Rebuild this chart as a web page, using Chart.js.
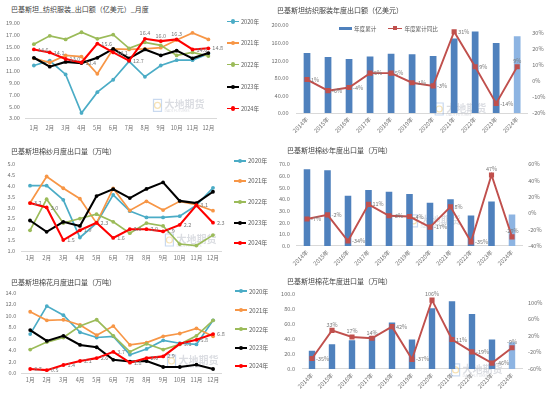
<!DOCTYPE html>
<html><head><meta charset="utf-8">
<script src="https://cdn.jsdelivr.net/npm/chart.js@4.4.0/dist/chart.umd.min.js"></script>
<style>
body{margin:0;width:550px;height:393px;background:#fff;position:relative;overflow:hidden;font-family:"Noto Sans CJK SC","Noto Sans",sans-serif;}
canvas{position:absolute;}
.t{position:absolute;font-size:7px;color:#404040;white-space:nowrap;line-height:8px;z-index:2;}
.lg{position:absolute;color:#595959;white-space:nowrap;line-height:7px;z-index:2;}
.sw{display:inline-block;width:12px;height:1.8px;vertical-align:middle;position:relative;margin-right:2px;margin-top:-1px;}
.sw i{position:absolute;left:4px;top:-1.2px;width:4.2px;height:4.2px;border-radius:50%;}
.sw b{position:absolute;left:4px;top:-1.2px;width:4px;height:4px;}
</style></head><body>
<div class="t" style="left:11px;top:5px">巴基斯坦_纺织服装_出口额（亿美元）_月度</div>
<div class="t" style="left:277px;top:6px">巴基斯坦纺织服装年度出口额（亿美元）</div>
<div class="t" style="left:11px;top:147px">巴基斯坦棉纱月度出口量（万吨）</div>
<div class="t" style="left:287px;top:146px">巴基斯坦棉纱年度出口量（万吨）</div>
<div class="t" style="left:11px;top:278px">巴基斯坦棉花月度进口量（万吨）</div>
<div class="t" style="left:287px;top:277px">巴基斯坦棉花年度进口量（万吨）</div>
<canvas id="c1" width="262" height="126" style="left:0;top:14px"></canvas>
<canvas id="c2" width="295" height="126" style="left:255px;top:14px"></canvas>
<canvas id="c3" width="262" height="116" style="left:0;top:154px"></canvas>
<canvas id="c4" width="295" height="116" style="left:255px;top:154px"></canvas>
<canvas id="c5" width="262" height="109" style="left:0;top:284px"></canvas>
<canvas id="c6" width="295" height="109" style="left:255px;top:284px"></canvas>
<script>
// ---------- data ----------
const months = ['1月','2月','3月','4月','5月','6月','7月','8月','9月','10月','11月','12月'];
const years = ['2014年','2015年','2016年','2017年','2018年','2019年','2020年','2021年','2022年','2023年','2024年'];
const seriesNames = ['2020年','2021年','2022年','2023年','2024年'];

// 纺织服装月度出口额（亿美元）
const textile2020 = [11.9,12.7,10.4,3.9,7.4,9.5,12.6,10.0,11.9,12.8,12.8,13.9];
const textile2021 = [13.1,12.4,13.6,13.4,10.5,14.7,14.6,14.7,14.9,16.2,17.4,16.3];
const textile2022 = [15.5,16.9,16.3,17.5,16.4,17.1,14.8,15.8,15.3,13.6,14.1,13.5];
const textile2023 = [13.2,11.7,12.5,12.3,13.2,14.7,13.1,14.6,13.6,14.4,13.1,14.0];
const textile2024 = [14.6,14.1,13.0,12.4,15.6,14.1,12.7,16.4,16.0,16.3,14.6,14.8];

// 纺织服装年度出口额（亿美元）及同比（%）
const textileAnnual = [137,128,123,129,135,134,130,170,186,160,175];
const textileYoY = [1,-6,-4,5,5,-1,-3,31,9,-14,9];

// 棉纱月度出口量（万吨）
const yarn2020 = [4.0,4.0,3.35,1.62,2.28,3.58,2.83,2.54,2.54,2.6,3.1,3.9];
const yarn2021 = [3.2,4.42,3.88,3.4,2.28,3.87,2.86,3.28,2.88,3.28,3.13,2.85];
const yarn2022 = [1.95,3.38,2.28,2.49,2.69,2.34,1.82,2.28,2.15,1.32,1.25,1.73];
const yarn2023 = [2.4,1.88,2.34,2.15,3.52,3.84,3.43,3.85,4.15,3.3,3.2,3.72];
const yarn2024 = [3.2,3.0,1.5,1.95,2.3,1.6,2.0,2.0,1.9,2.2,3.1,2.3];

// 棉纱年度出口量（万吨）及同比（%）
const yarnAnnual = [65.9,65,43,48,46.5,44.6,37,40,26,38.2,27];
const yarnYoY = [-7,-2,-34,11,-3,-4,-17,8,-35,47,-29];

// 棉花月度进口量（万吨）
const cotton2020 = [6.8,11.7,10.1,7.1,6.2,6.4,3.2,4.2,5.7,5.2,5.0,9.2];
const cotton2021 = [10.7,9.2,9.3,8.4,6.6,8.2,4.9,5.3,6.4,6.9,7.8,6.4];
const cotton2022 = [4.1,5.4,6.2,8.2,9.3,6.5,3.7,5.1,4.1,5.0,6.5,9.2];
const cotton2023 = [7.5,5.6,6.5,4.9,4.5,2.3,2.0,2.1,1.05,1.05,1.45,0.7];
const cotton2024 = [0.7,0.5,1.4,2.1,2.6,3.7,1.8,2.6,2.9,5.1,5.8,6.8];

// 棉花年度进口量（万吨）及同比（%）
const cottonAnnual = [24.2,32.9,38.5,44.2,62.3,39.4,81.4,90.9,73.6,39.4,35.8];
const cottonYoY = [-35,33,17,14,42,-37,106,11,-19,-46,-9];

// ---------- styles ----------
const lineColors = ['#4bacc6','#f79646','#9bbb59','#000000','#ff0000'];
const barBlue = '#4f81bd', barLight = '#8db4e2', yoyRed = '#c0504d';
const tickColor = '#6f6f6f';
const FONT = '"Noto Sans CJK SC","Noto Sans",sans-serif';
Chart.defaults.font.family = FONT;
Chart.defaults.color = tickColor;

const labelPlugin = {
  id:'ptLabels',
  afterDatasetsDraw(chart, args, o){
    if(!o || o.dataset === undefined || o.dataset === null) return;
    const meta = chart.getDatasetMeta(o.dataset);
    const data = chart.data.datasets[o.dataset].data;
    const ctx = chart.ctx;
    ctx.save();
    ctx.font = '5.5px ' + FONT;
    ctx.fillStyle = '#7a7a7a';
    meta.data.forEach((el,i)=>{
      const v = data[i];
      const txt = o.fmt === 'pct' ? (v + '%') : v.toFixed(1);
      const p = (o.pos && o.pos[i]) || 'r';
      let x = el.x, y = el.y;
      if(p === 't'){ ctx.textAlign='center'; ctx.textBaseline='bottom'; y -= 3; }
      else if(p === 'b'){ ctx.textAlign='center'; ctx.textBaseline='top'; y += 3; }
      else { ctx.textAlign='left'; ctx.textBaseline='middle'; x += 4; }
      ctx.fillText(txt, x, y);
    });
    ctx.restore();
  }
};
const wmPlugin = {
  id:'wm',
  beforeDatasetsDraw(chart, args, o){
    if(!o || o.fx === undefined) return;
    const a = chart.chartArea;
    const x = a.left + o.fx*(a.right-a.left), y = a.bottom + o.dy;
    const c = chart.ctx;
    c.save();
    c.strokeStyle = 'rgba(120,160,215,0.4)';
    c.lineWidth = 1.2;
    c.beginPath();
    c.rect(x, y-7, 8, 12);
    c.stroke();
    c.strokeStyle = 'rgba(235,190,90,0.45)';
    c.beginPath();
    c.arc(x+4, y-1, 3, 0, Math.PI*2);
    c.stroke();
    c.fillStyle = 'rgba(175,180,190,0.45)';
    c.font = 'bold 10px ' + FONT;
    c.textBaseline = 'middle';
    c.textAlign = 'left';
    c.fillText('大地期货', x+11, y-2);
    c.font = '3.6px "Noto Sans",sans-serif';
    c.fillText('DADI FUTURES', x+11, y+5);
    c.restore();
  }
};
Chart.register(labelPlugin, wmPlugin);

function xScale(pad, rot, fs){
  return {type:'category', offset:true,
    grid:{display:false, drawTicks:false},
    border:{display:true, color:'#d9d9d9', width:1},
    ticks:{font:{size:fs}, color:tickColor, padding:pad, autoSkip:false, maxRotation:rot, minRotation:rot}};
}
function yScale(min, max, step, dec, pad, pos, pct){
  return {type:'linear', position:pos, min:min, max:max,
    grid:{display:false, drawTicks:false}, border:{display:false},
    ticks:{stepSize:step, font:{size:5.6}, color:tickColor, padding:pad,
      callback:(v)=> pct ? (Math.round(v) + '%') : v.toFixed(dec)}};
}

function lineCfg(sets, min, max, step, dec, ypad, xpad, pos, wm){
  return {type:'line',
    data:{labels:months, datasets:sets.map((d,i)=>({label:seriesNames[i], data:d,
      borderColor:lineColors[i], backgroundColor:lineColors[i], borderWidth: i>=3 ? 2.1 : 1.7,
      pointRadius:1.9, pointHoverRadius:1.9, pointBorderWidth:0, tension:0, order:5-i}))},
    options:{responsive:false, animation:false, events:[],
      layout:{padding:{left:0,right:0,top:0,bottom:0}},
      plugins:{legend:{display:false}, tooltip:{enabled:false}, title:{display:false},
        ptLabels:{dataset:4, fmt:'f1', pos:pos}, wm:wm},
      scales:{x:xScale(xpad,0,5.6), y:yScale(min,max,step,dec,ypad,'left',false)}}};
}
function barCfg(vals, yoy, lmin, lmax, lstep, ldec, rmin, rmax, rstep, lpad, rpad, pos, wm){
  const cols = vals.map((v,i)=> i === vals.length-1 ? barLight : barBlue);
  return {type:'bar',
    data:{labels:years, datasets:[
      {type:'line', label:'年度累计同比', data:yoy, yAxisID:'y1', borderColor:yoyRed, backgroundColor:yoyRed,
        borderWidth:1.9, pointStyle:'rect', pointRadius:2.3, pointHoverRadius:2.3, tension:0, order:0},
      {type:'bar', label:'年度累计', data:vals, yAxisID:'y', backgroundColor:cols,
        barPercentage:0.32, categoryPercentage:1, order:1}]},
    options:{responsive:false, animation:false, events:[],
      layout:{padding:{left:0,right:0,top:0,bottom:0}},
      plugins:{legend:{display:false}, tooltip:{enabled:false}, title:{display:false},
        ptLabels:{dataset:0, fmt:'pct', pos:pos}, wm:wm},
      scales:{x:xScale(3,45,5.8), y:yScale(lmin,lmax,lstep,ldec,lpad,'left',false),
        y1:yScale(rmin,rmax,rstep,0,rpad,'right',true)}}};
}

function place(id, cfg, want){
  const cv = document.getElementById(id);
  const ox = parseFloat(cv.style.left) || 0, oy = parseFloat(cv.style.top) || 0;
  const w = {l:want[0]-ox, t:want[1]-oy, r:want[2]-ox, b:want[3]-oy};
  const ch = new Chart(cv, cfg);
  const p = ch.config.options.layout.padding;
  for(let k=0;k<5;k++){
    const a = ch.chartArea;
    p.left = Math.max(0, p.left + w.l - a.left);
    p.top = Math.max(0, p.top + w.t - a.top);
    p.right = Math.max(0, p.right + a.right - w.r);
    p.bottom = Math.max(0, p.bottom + a.bottom - w.b);
    ch.update('none');
  }
  return ch;
}

place('c1', lineCfg([textile2020,textile2021,textile2022,textile2023,textile2024], 3, 19, 2, 2, 6, 6,
  ['r','r','r','r','r','r','r','t','t','t','r','r'], {fx:0.67, dy:-12}), [24.3,23.3,216.3,118.3]);
place('c2', barCfg(textileAnnual, textileYoY, 0, 200, 20, 2, -20, 35, 5, 8, 4.5,
  ['r','r','r','r','r','r','r','r','r','r','t'], {fx:0.6, dy:-3}), [296.5,24,528.5,113]);
place('c3', lineCfg([yarn2020,yarn2021,yarn2022,yarn2023,yarn2024], 1, 5, 0.5, 1, 6.5, 3.5,
  ['r','r','r','r','r','r','r','r','r','r','r','r'], {fx:0.72, dy:-10}), [21.7,161.7,221.3,251]);
place('c4', barCfg(yarnAnnual, yarnYoY, 0, 70, 10, 1, -40, 60, 10, 7, 6,
  ['r','r','r','r','r','r','r','r','r','t','t'], {fx:0.5, dy:-24}), [296.75,163.3,522.25,247.7]);
place('c5', lineCfg([cotton2020,cotton2021,cotton2022,cotton2023,cotton2024], 0, 14, 2, 1, 5.5, 4,
  ['r','r','r','r','r','r','r','r','r','r','r','r'], {fx:0.73, dy:-11}), [20.6,293,221.4,373]);
place('c6', barCfg(cottonAnnual, cottonYoY, 0, 100, 10, 1, -60, 120, 20, 7, 6,
  ['r','t','t','t','r','r','t','r','r','r','t'], {fx:0.68, dy:2}), [302,294,522,371]);

// ---------- legends ----------
function lineLegend(x, ys, fs){
  seriesNames.forEach((n,i)=>{
    const d = document.createElement('div');
    d.className = 'lg';
    d.style.left = x + 'px';
    d.style.top = (ys[i]-3.5) + 'px';
    d.style.fontSize = fs + 'px';
    d.innerHTML = '<span class="sw" style="background:'+lineColors[i]+'"><i style="background:'+lineColors[i]+'"></i></span>' + n;
    document.body.appendChild(d);
  });
}
lineLegend(227, [22,43.3,65,87.7,109], 5.6);
lineLegend(234, [160.7,180.7,201.7,222.3,242.3], 6);
lineLegend(235, [291,310,329,347.3,365.7], 6);

const l2 = document.createElement('div');
l2.className = 'lg';
l2.style.left = '339px'; l2.style.top = '25.5px'; l2.style.fontSize = '5.6px';
l2.innerHTML = '<span class="sw" style="background:'+barBlue+';height:3px;width:13px"></span>年度累计' +
  '<span style="display:inline-block;width:12px"></span>' +
  '<span class="sw" style="background:'+yoyRed+';width:14px"><b style="background:'+yoyRed+';left:5px"></b></span>年度累计同比';
document.body.appendChild(l2);
</script>
</body></html>
